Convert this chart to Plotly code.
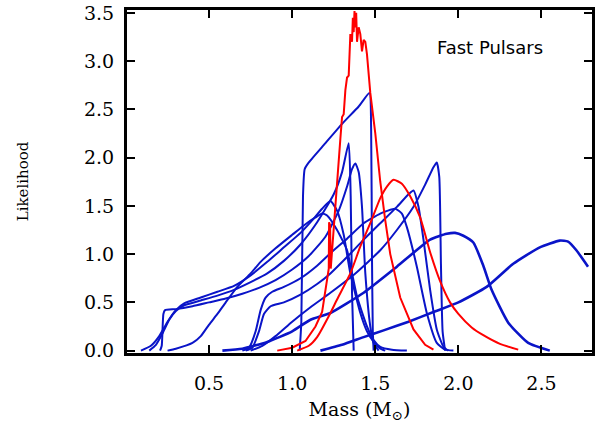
import plotly.graph_objects as go

# ---------------- data ----------------
# Red curves
r1_mass = [0.91, 1.00, 1.08, 1.14, 1.18, 1.21, 1.22, 1.222, 1.228, 1.232, 1.25, 1.27, 1.29, 1.30, 1.31, 1.32,
           1.33, 1.34, 1.345, 1.35, 1.36, 1.365, 1.37, 1.375, 1.38, 1.385, 1.39, 1.40, 1.41, 1.42, 1.43,
           1.44, 1.45, 1.46, 1.47, 1.50, 1.53, 1.56, 1.59, 1.65, 1.73, 1.80, 1.85]
r1_like = [0.0, 0.03, 0.10, 0.25, 0.40, 0.73, 0.85, 1.33, 1.30, 0.85, 1.30, 1.77, 2.20, 2.42, 2.45, 2.70,
           2.83, 2.85, 3.15, 3.28, 3.20, 3.45, 3.30, 3.52, 3.35, 3.50, 3.20, 3.35, 3.28, 3.10, 3.22,
           3.20, 3.07, 2.85, 2.67, 2.25, 1.75, 1.35, 1.00, 0.55, 0.22, 0.06, 0.01]

r2_mass = [1.03, 1.10, 1.15, 1.23, 1.27, 1.35, 1.41, 1.47, 1.53, 1.57, 1.61, 1.66, 1.71, 1.77, 1.83,
           1.89, 1.95, 2.00, 2.08, 2.15, 2.25, 2.36]
r2_like = [0.0, 0.05, 0.14, 0.39, 0.53, 0.80, 1.08, 1.32, 1.58, 1.70, 1.77, 1.73, 1.60, 1.38, 1.02,
           0.72, 0.50, 0.38, 0.24, 0.16, 0.07, 0.01]

# Blue curves
b1_mass = [1.045, 1.055, 1.065, 1.075, 1.10, 1.20, 1.30, 1.40, 1.465, 1.475, 1.48, 1.485, 1.49]
b1_like = [0.0, 0.30, 1.60, 1.88, 1.95, 2.15, 2.35, 2.53, 2.67, 2.30, 1.00, 0.20, 0.0]

b2_mass = [0.14, 0.18, 0.22, 0.26, 0.30, 0.35, 0.45, 0.55, 0.65, 0.75, 0.85, 0.95, 1.05, 1.15, 1.25,
           1.30, 1.34, 1.352, 1.36, 1.37]
b2_like = [0.0, 0.06, 0.18, 0.32, 0.41, 0.47, 0.52, 0.57, 0.63, 0.71, 0.80, 0.93, 1.10, 1.33, 1.62,
           1.85, 2.15, 1.60, 0.60, 0.0]

b3_mass = [0.205, 0.215, 0.225, 0.235, 0.30, 0.40, 0.50, 0.60, 0.70, 0.80, 0.90, 1.00, 1.10, 1.20,
           1.28, 1.33, 1.36, 1.38, 1.40, 1.42, 1.44, 1.47, 1.49, 1.52]
b3_like = [0.0, 0.05, 0.38, 0.42, 0.43, 0.46, 0.50, 0.54, 0.59, 0.65, 0.73, 0.84, 0.98, 1.18,
           1.45, 1.70, 1.88, 1.94, 1.85, 1.49, 0.80, 0.25, 0.08, 0.0]

b4_mass = [0.09, 0.15, 0.20, 0.25, 0.30, 0.35, 0.45, 0.55, 0.65, 0.75, 0.85, 0.95, 1.05, 1.12, 1.18,
           1.23, 1.27, 1.31, 1.35, 1.41, 1.45, 1.49, 1.53, 1.56]
b4_like = [0.0, 0.05, 0.15, 0.30, 0.42, 0.49, 0.55, 0.61, 0.67, 0.78, 0.92, 1.07, 1.22, 1.35, 1.47,
           1.55, 1.45, 1.20, 0.80, 0.39, 0.20, 0.09, 0.02, 0.0]

b5_mass = [0.25, 0.30, 0.40, 0.45, 0.50, 0.55, 0.60, 0.67, 0.75, 0.81, 0.90, 1.00, 1.08, 1.14, 1.18,
           1.21, 1.27, 1.33, 1.36, 1.39, 1.45, 1.49, 1.53, 1.60, 1.69]
b5_like = [0.0, 0.02, 0.08, 0.15, 0.27, 0.38, 0.50, 0.66, 0.80, 0.92, 1.06, 1.20, 1.31, 1.38, 1.42,
           1.40, 1.25, 1.04, 0.80, 0.56, 0.25, 0.11, 0.04, 0.01, 0.0]

b6_mass = [0.72, 0.76, 0.80, 0.83, 0.87, 0.95, 1.05, 1.15, 1.23, 1.33, 1.43, 1.53, 1.63, 1.70, 1.73,
           1.76, 1.79, 1.83, 1.87, 1.91, 1.94]
b6_like = [0.0, 0.03, 0.20, 0.38, 0.46, 0.50, 0.58, 0.69, 0.80, 0.97, 1.15, 1.32, 1.49, 1.62, 1.66,
           1.49, 1.15, 0.63, 0.22, 0.04, 0.0]

b7_mass = [0.70, 0.74, 0.78, 0.81, 0.84, 0.88, 0.95, 1.05, 1.15, 1.23, 1.33, 1.43, 1.53, 1.62, 1.66,
           1.69, 1.75, 1.81, 1.87, 1.92, 1.97]
b7_like = [0.0, 0.03, 0.20, 0.42, 0.55, 0.61, 0.66, 0.75, 0.88, 1.01, 1.16, 1.32, 1.42, 1.47, 1.42,
           1.28, 0.87, 0.39, 0.08, 0.01, 0.0]

b8_mass = [0.75, 0.82, 0.90, 1.00, 1.11, 1.23, 1.38, 1.53, 1.63, 1.73, 1.80, 1.85, 1.87, 1.885, 1.895,
           1.905, 1.92]
b8_like = [0.0, 0.05, 0.15, 0.30, 0.45, 0.60, 0.80, 1.04, 1.25, 1.49, 1.72, 1.90, 1.95, 1.80, 0.90,
           0.20, 0.0]

b9_mass = [0.58, 0.70, 0.85, 1.00, 1.11, 1.23, 1.43, 1.63, 1.83, 1.93, 1.98, 2.03, 2.09, 2.15, 2.20,
           2.30, 2.42, 2.55]
b9_like = [0.0, 0.02, 0.09, 0.20, 0.32, 0.39, 0.60, 0.87, 1.15, 1.21, 1.22, 1.19, 1.12, 0.88, 0.63,
           0.29, 0.08, 0.0]

b10_mass = [1.17, 1.30, 1.43, 1.55, 1.70, 1.85, 2.00, 2.17, 2.33, 2.49, 2.61, 2.66, 2.71, 2.78]
b10_like = [0.0, 0.06, 0.14, 0.21, 0.30, 0.40, 0.50, 0.66, 0.90, 1.07, 1.14, 1.13, 1.04, 0.87]

x_tick_vals = [0.5, 1.0, 1.5, 2.0, 2.5]
x_tick_text = ["0.5", "1.0", "1.5", "2.0", "2.5"]
y_tick_vals = [0.0, 0.5, 1.0, 1.5, 2.0, 2.5, 3.0, 3.5]
y_tick_text = ["0.0", "0.5", "1.0", "1.5", "2.0", "2.5", "3.0", "3.5"]

BLUE = "#0a14c8"
RED = "#ff0000"

blue_curves = [
    (b1_mass, b1_like, 2), (b2_mass, b2_like, 2), (b3_mass, b3_like, 2), (b4_mass, b4_like, 2),
    (b5_mass, b5_like, 2), (b6_mass, b6_like, 2), (b7_mass, b7_like, 2), (b8_mass, b8_like, 2),
    (b9_mass, b9_like, 2.6), (b10_mass, b10_like, 2.6),
]
red_curves = [(r2_mass, r2_like), (r1_mass, r1_like)]

fig = go.Figure()
for xs, ys, w in blue_curves:
    fig.add_trace(go.Scatter(x=xs, y=ys, mode="lines",
                             line=dict(color=BLUE, width=w, shape="spline", smoothing=0.5),
                             showlegend=False, hoverinfo="skip"))
for i, (xs, ys) in enumerate(red_curves):
    fig.add_trace(go.Scatter(x=xs, y=ys, mode="lines",
                             line=dict(color=RED, width=2,
                                       shape="spline" if i == 0 else "linear", smoothing=0.5),
                             showlegend=False, hoverinfo="skip"))

axis_common = dict(showline=True, linecolor="black", linewidth=2, mirror="ticks",
                   ticks="inside", ticklen=9, tickwidth=2, tickcolor="black",
                   showgrid=False, zeroline=False, ticklabeloverflow="allow",
                   tickfont=dict(family="DejaVu Serif", size=19, color="black"))

fig.update_xaxes(range=[0, 2.81], tickvals=x_tick_vals, ticktext=x_tick_text,
                 title=dict(text="Mass (M<sub>⊙</sub>)",
                            font=dict(family="DejaVu Serif", size=19, color="black"), standoff=10),
                 ticklabelstandoff=11, **axis_common)
fig.update_yaxes(range=[-0.035, 3.54], tickvals=y_tick_vals, ticktext=y_tick_text,
                 title=dict(text="Likelihood",
                            font=dict(family="DejaVu Serif", size=15, color="black"), standoff=52),
                 ticklabelstandoff=6, **axis_common)

fig.update_layout(width=612, height=435, margin=dict(l=126, r=19, t=9, b=81, autoexpand=False),
                  plot_bgcolor="white", paper_bgcolor="white")

# plot frame (box)
fig.add_shape(type="rect", xref="paper", yref="paper", x0=0, x1=1, y0=0, y1=1,
              line=dict(color="black", width=2), layer="above")

fig.add_annotation(x=(490 - 126) / (593 - 126), y=(354 - 47) / (354 - 8),
                   xref="paper", yref="paper", xanchor="center", yanchor="middle",
                   text="Fast Pulsars", showarrow=False,
                   font=dict(family="DejaVu Sans", size=18, color="black"))

# remove the default 8px page margin so the figure sits at the window origin
fig.write_html("out.html", config={"displayModeBar": False},
               post_script="document.body.style.margin='0';")
